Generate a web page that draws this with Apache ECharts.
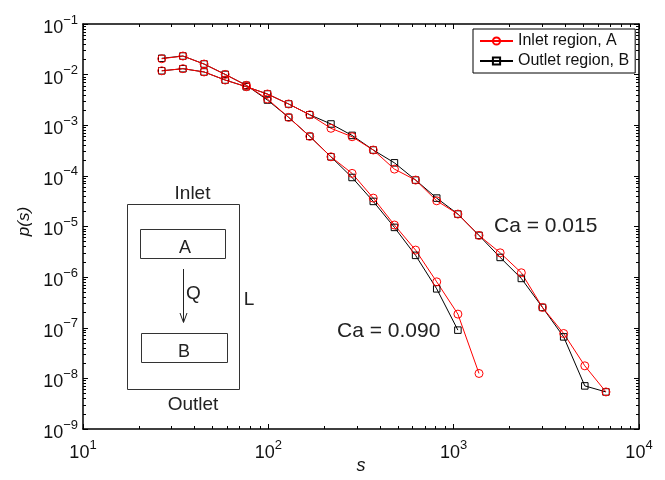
<!DOCTYPE html>
<html><head><meta charset="utf-8">
<script src="https://cdn.jsdelivr.net/npm/echarts@6/dist/echarts.min.js"></script>
<style>html,body{margin:0;padding:0;background:#fff}#c{width:665px;height:480px}</style>
</head><body><div id="c"></div>
<script>
// cluster size bins s
const sValues = [26.6, 34.6, 45.0, 58.5, 76.1, 98.9, 128.7, 167.3, 217.7, 283.1, 368.3, 479, 623, 810, 1054, 1370, 1782, 2318, 3015, 3922, 5100, 6633];
// Ca = 0.015
const inletCa015 = [1.19e-2, 1.31e-2, 1.13e-2, 7.82e-3, 5.77e-3, 4.14e-3, 2.63e-3, 1.61e-3, 8.7e-4, 5.93e-4, 3.24e-4, 1.36e-4, 8.26e-5, 3.22e-5, 1.76e-5, 6.67e-6, 3.02e-6, 1.22e-6, 2.52e-7, 7.7e-8, 1.77e-8, 5.4e-9];
const outletCa015 = [1.19e-2, 1.31e-2, 1.13e-2, 7.82e-3, 5.77e-3, 4.14e-3, 2.63e-3, 1.61e-3, 1.06e-3, 6.3e-4, 3.24e-4, 1.81e-4, 8.26e-5, 3.64e-5, 1.76e-5, 6.67e-6, 2.45e-6, 9.42e-7, 2.52e-7, 6.6e-8, 7.1e-9, 5.4e-9];
// Ca = 0.090
const inletCa090 = [2.06e-2, 2.33e-2, 1.62e-2, 1.01e-2, 6.15e-3, 3.3e-3, 1.43e-3, 6.04e-4, 2.38e-4, 1.12e-4, 3.64e-5, 1.07e-5, 3.42e-6, 8.07e-7, 1.86e-7, 1.25e-8];
const outletCa090 = [2.10e-2, 2.33e-2, 1.62e-2, 1.01e-2, 6.15e-3, 3.15e-3, 1.43e-3, 6.04e-4, 2.38e-4, 9.3e-5, 3.13e-5, 9.6e-6, 2.69e-6, 5.87e-7, 8.97e-8];

const legendNames = ['Inlet region, A', 'Outlet region, B'];
const caLabels = ['Ca = 0.015', 'Ca = 0.090'];

const FONT = "'Liberation Sans', Arial, Helvetica, sans-serif";
const chart = echarts.init(document.getElementById('c'), null, {renderer: 'canvas'});

function pairs(arr) { return arr.map((v, i) => [sValues[i], v]); }

const rich = {
  a: {fontSize: 18, fontFamily: FONT, color: '#111'},
  b: {fontSize: 13, fontFamily: FONT, color: '#111', padding: [0, 0, 16, 0]}
};
function fmt(v) {
  const e = Math.round(Math.log10(v));
  return '{a|10}{b|' + (e < 0 ? '\u2212' + (-e) : e) + '}';
}
const tickStyle = {color: '#000', width: 1};
function axisBase(extra) {
  return Object.assign({
    type: 'log', logBase: 10,
    axisLine: {show: true, onZero: false, lineStyle: {color: '#000', width: 1.5}},
    axisTick: {show: true, inside: true, length: 5, lineStyle: tickStyle},
    minorTick: {show: true, splitNumber: 9, length: 3, lineStyle: tickStyle},
    splitLine: {show: false},
    minorSplitLine: {show: false}
  }, extra);
}

const red = '#ff0000', black = '#000000';
function lineSeries(name, data, color, symbol, size) {
  return {
    name: name, type: 'line', data: pairs(data),
    xAxisIndex: 0, yAxisIndex: 0,
    symbol: symbol, symbolSize: size, showSymbol: true,
    lineStyle: {color: color, width: 1},
    itemStyle: {color: 'rgba(255,255,255,0)', borderColor: color, borderWidth: 1},
    emphasis: {disabled: true},
    animation: false
  };
}

const option = {
  backgroundColor: '#fff',
  animation: false,
  grid: {left: 83, right: 26, top: 24, bottom: 51, containLabel: false, outerBoundsMode: 'none'},
  xAxis: [
    axisBase({min: 10, max: 10000, position: 'bottom', splitNumber: 3,
      name: 's', nameLocation: 'middle', nameGap: 28, nameMoveOverlap: false,
      nameTextStyle: {fontStyle: 'italic', fontSize: 18, fontFamily: FONT, color: '#111'},
      axisLabel: {formatter: fmt, rich: rich, margin: 10}}),
    axisBase({min: 10, max: 10000, position: 'top', splitNumber: 3, axisLabel: {show: false}})
  ],
  yAxis: [
    axisBase({min: 1e-9, max: 1e-1, position: 'left', splitNumber: 8,
      name: 'p(s)', nameLocation: 'middle', nameGap: 50, nameRotate: 90, nameMoveOverlap: false,
      nameTextStyle: {fontStyle: 'italic', fontSize: 17, fontFamily: FONT, color: '#111', padding: [0, 0, 0, 10]},
      axisLabel: {formatter: fmt, rich: rich, margin: 5, padding: [8, 0, 0, 0]}}),
    axisBase({min: 1e-9, max: 1e-1, position: 'right', splitNumber: 8, axisLabel: {show: false}})
  ],
  legend: {
    left: 473, top: 29, orient: 'vertical',
    padding: [3, 6, 3, 6], itemGap: 2, itemWidth: 33, itemHeight: 9,
    backgroundColor: '#fff', borderColor: '#000', borderWidth: 1, borderRadius: 0,
    textStyle: {fontSize: 16, fontFamily: FONT, color: '#111', lineHeight: 18},
    data: legendNames
  },
  series: [
    lineSeries(legendNames[1], outletCa015, black, 'rect', 6.5),
    lineSeries(legendNames[1], outletCa090, black, 'rect', 6.5),
    lineSeries(legendNames[0], inletCa015, red, 'circle', 8),
    lineSeries(legendNames[0], inletCa090, red, 'circle', 8)
  ],
  graphic: [
    {type: 'text', left: 494, top: 216, style: {text: caLabels[0], font: '21px ' + FONT, fill: '#222'}},
    {type: 'text', left: 337, top: 321, style: {text: caLabels[1], font: '21px ' + FONT, fill: '#222'}},
    // inset schematic
    {type: 'rect', shape: {x: 127.5, y: 204.5, width: 112, height: 185}, style: {fill: 'none', stroke: '#333', lineWidth: 1}},
    {type: 'rect', shape: {x: 140.5, y: 229.5, width: 85, height: 29}, style: {fill: 'none', stroke: '#333', lineWidth: 1}},
    {type: 'rect', shape: {x: 141.5, y: 333.5, width: 86, height: 29}, style: {fill: 'none', stroke: '#333', lineWidth: 1}},
    {type: 'line', shape: {x1: 183.5, y1: 269, x2: 183.5, y2: 322}, style: {stroke: '#222', lineWidth: 1}},
    {type: 'polyline', shape: {points: [[180, 313], [183.5, 322.5], [187, 313]]}, style: {fill: 'none', stroke: '#222', lineWidth: 1}},
    {type: 'text', x: 192.5, y: 194, style: {text: 'Inlet', font: '19px ' + FONT, fill: '#222', align: 'center', verticalAlign: 'middle'}},
    {type: 'text', x: 193, y: 405, style: {text: 'Outlet', font: '19px ' + FONT, fill: '#222', align: 'center', verticalAlign: 'middle'}},
    {type: 'text', x: 185, y: 248, style: {text: 'A', font: '18px ' + FONT, fill: '#222', align: 'center', verticalAlign: 'middle'}},
    {type: 'text', x: 184, y: 352, style: {text: 'B', font: '18px ' + FONT, fill: '#222', align: 'center', verticalAlign: 'middle'}},
    {type: 'text', x: 193.5, y: 294, style: {text: 'Q', font: '19px ' + FONT, fill: '#222', align: 'center', verticalAlign: 'middle'}},
    {type: 'text', x: 249, y: 300, style: {text: 'L', font: '19px ' + FONT, fill: '#222', align: 'center', verticalAlign: 'middle'}}
  ]
};
chart.setOption(option);
</script></body></html>
